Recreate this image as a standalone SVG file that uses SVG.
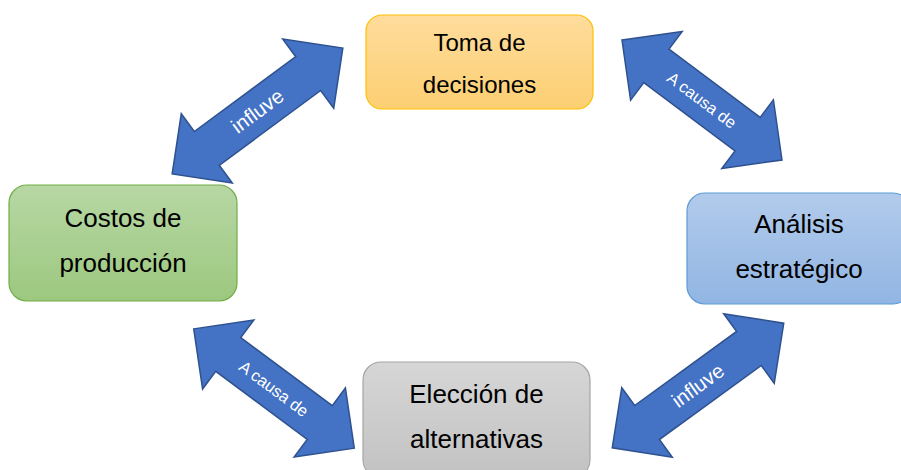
<svg xmlns="http://www.w3.org/2000/svg" width="901" height="470" viewBox="0 0 901 470">
<defs>
<linearGradient id="gOrange" x1="0" y1="0" x2="0" y2="1"><stop offset="0" stop-color="#fedc9c"/><stop offset="1" stop-color="#fccf72"/></linearGradient>
<linearGradient id="gGreen" x1="0" y1="0" x2="0" y2="1"><stop offset="0" stop-color="#b7d7a4"/><stop offset="1" stop-color="#9cc87f"/></linearGradient>
<linearGradient id="gBlue" x1="0" y1="0" x2="0" y2="1"><stop offset="0" stop-color="#b2cbeb"/><stop offset="1" stop-color="#91b5e3"/></linearGradient>
<linearGradient id="gGray" x1="0" y1="0" x2="0" y2="1"><stop offset="0" stop-color="#d6d6d6"/><stop offset="1" stop-color="#c2c2c2"/></linearGradient>
<path id="arrowLong" d="M -106 0 L -63 -43 L -63 -21 L 63 -21 L 63 -43 L 106 0 L 63 43 L 63 21 L -63 21 L -63 43 Z"/>
<path id="arrowShort" d="M -100 0 L -57 -43 L -57 -21 L 57 -21 L 57 -43 L 100 0 L 57 43 L 57 21 L -57 21 L -57 43 Z"/>
</defs>
<style>
.arrow{fill:#4472c4;stroke:#2f528f;stroke-width:1.5;stroke-linejoin:miter}
.alabel{font-family:"Liberation Sans",Arial,sans-serif;fill:#ffffff;text-anchor:middle}
.ntext{font-family:"Liberation Sans",Arial,sans-serif;fill:#000000;text-anchor:middle;font-size:26px}
</style>
<rect width="901" height="470" fill="#ffffff"/>
<g id="connectors">
<g transform="translate(257.5,111) rotate(-36.4)">
<use href="#arrowLong" class="arrow"/>
<text class="alabel" x="0" y="7" font-size="20.5">influve</text>
</g>
<g transform="translate(702,100) rotate(36.87)">
<use href="#arrowShort" class="arrow"/>
<text class="alabel" x="0" y="6" font-size="16.5">A causa de</text>
</g>
<g transform="translate(274,388.5) rotate(36.6)">
<use href="#arrowShort" class="arrow"/>
<text class="alabel" x="0" y="6" font-size="16.5">A causa de</text>
</g>
<g transform="translate(698,385.5) rotate(-36)">
<use href="#arrowLong" class="arrow"/>
<text class="alabel" x="0" y="7" font-size="20.5">influve</text>
</g>
</g>
<g id="node-toma">
<rect x="366" y="15" width="227" height="94" rx="16" fill="url(#gOrange)" stroke="#ffc000" stroke-width="1.2"/>
<text class="ntext" x="479.5" y="51" style="font-size:24px">Toma de</text>
<text class="ntext" x="479.5" y="93" style="font-size:24px">decisiones</text>
</g>
<g id="node-costos">
<rect x="9" y="185" width="228" height="116" rx="18" fill="url(#gGreen)" stroke="#70ad47" stroke-width="1.2"/>
<text class="ntext" x="123" y="227">Costos de</text>
<text class="ntext" x="123" y="272">producción</text>
</g>
<g id="node-analisis">
<rect x="687" y="193" width="224" height="111" rx="18" fill="url(#gBlue)" stroke="#5b9bd5" stroke-width="1.2"/>
<text class="ntext" x="799" y="233">Análisis</text>
<text class="ntext" x="799" y="278">estratégico</text>
</g>
<g id="node-eleccion">
<rect x="363" y="362" width="227" height="116" rx="18" fill="url(#gGray)" stroke="#a5a5a5" stroke-width="1.2"/>
<text class="ntext" x="476.5" y="403">Elección de</text>
<text class="ntext" x="476.5" y="448">alternativas</text>
</g>
</svg>
